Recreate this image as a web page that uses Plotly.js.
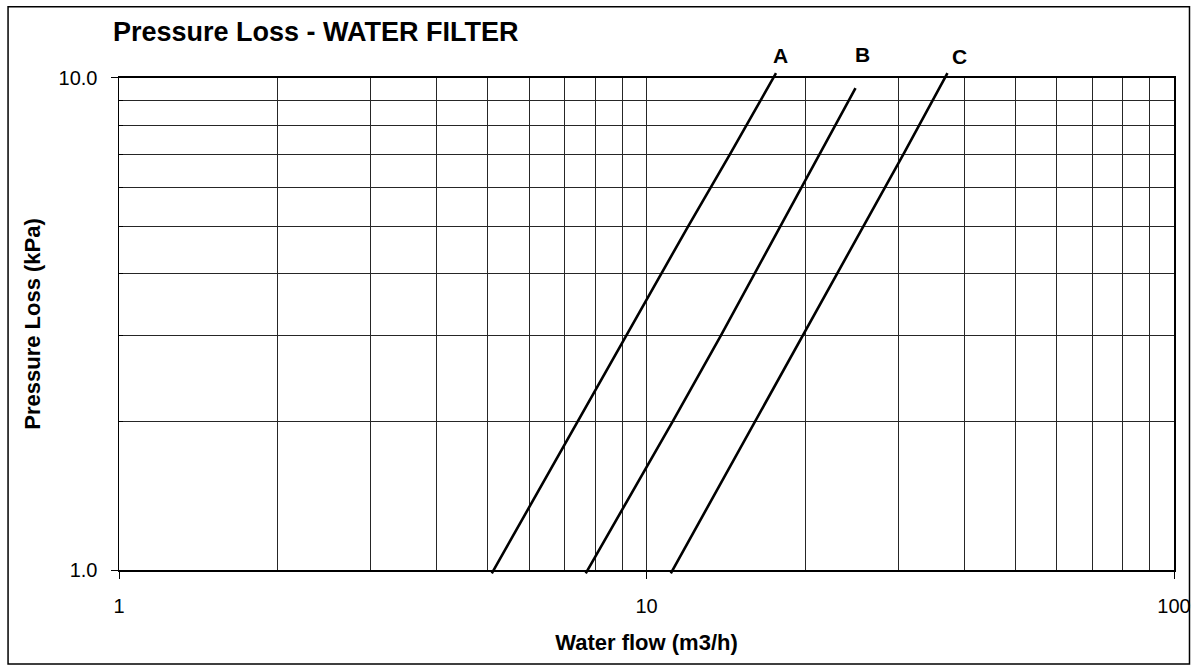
<!DOCTYPE html>
<html>
<head>
<meta charset="utf-8">
<script src="https://cdn.plot.ly/plotly-3.0.1.min.js"></script>
<style>
  html, body { margin: 0; padding: 0; background: #fff; }
  #chart { width: 1197px; height: 668px; }
</style>
</head>
<body>
<div id="chart"></div>
<script>
// ---- data ----
const seriesNames = ['A', 'B', 'C'];
const flowA = [5.09, 7.4, 9.15, 12.0, 14.4, 17.6];
const lossA = [0.985, 2, 3, 5, 7, 10.22];
const flowB = [7.67, 11.2, 13.85, 17.95, 21.3, 24.9];
const lossB = [0.985, 2, 3, 5, 7, 9.53];
const flowC = [11.12, 16.06, 19.45, 25.8, 30.7, 37.2];
const lossC = [0.985, 2, 2.89, 5, 7, 10.22];

const xTickVals = [1, 10, 100];
const xTickText = ['1', '10', '100'];
const xMinorVals = [2, 3, 4, 5, 6, 7, 8, 9, 20, 30, 40, 50, 60, 70, 80, 90];
const yTickVals = [1, 10];
const yTickText = ['1.0', '10.0'];
const yMinorVals = [2, 3, 4, 5, 6, 7, 8, 9];

// ---- layout geometry ----
const W = 1197, H = 668;
const plotLeft = 119, plotRight = 1174.5;
const axTop = 78, axBottom = 570;
const decY = axBottom - axTop;           // px per decade (y range 1..10)
const lo = -0.01, hi = 1.02;             // extended log range for the curve layer
const areaTop = axTop - (hi - 1) * decY;
const areaBottom = axBottom - lo * decY;
const areaH = areaBottom - areaTop;
const domLo = (0 - lo) / (hi - lo), domHi = (1 - lo) / (hi - lo);
const areaW = plotRight - plotLeft;
const px2paperX = p => (p - plotLeft) / areaW;
const px2paperY = p => (areaBottom - p) / areaH;

const FONT = 'Liberation Sans, Arial, Helvetica, sans-serif';
const GRID = '#262626';

const flows = [flowA, flowB, flowC];
const losses = [lossA, lossB, lossC];
const traces = seriesNames.map((n, i) => ({
  type: 'scatter', mode: 'lines', name: n,
  x: flows[i], y: losses[i],
  xaxis: 'x2', yaxis: 'y2',
  line: { color: '#000000', width: 2.6 },
  hoverinfo: 'skip', showlegend: false
}));

// label positions (log10 x of label centre, pixel y of label centre)
const labelPos = [[1.254, 55.8], [1.4095, 54.2], [1.5934, 56.7]];
const annotations = seriesNames.map((n, i) => ({
  text: n, xref: 'x', yref: 'paper',
  x: labelPos[i][0], y: px2paperY(labelPos[i][1]),
  xanchor: 'center', yanchor: 'middle', showarrow: false,
  font: { family: FONT, size: 21, color: '#000', weight: 700 }
}));

const layout = {
  width: W, height: H,
  paper_bgcolor: '#ffffff', plot_bgcolor: 'rgba(0,0,0,0)',
  margin: { l: plotLeft, r: W - plotRight, t: areaTop, b: H - areaBottom, pad: 0 },
  showlegend: false,
  title: {
    text: 'Pressure Loss - WATER FILTER',
    font: { family: FONT, size: 27, color: '#000', weight: 700 },
    x: 113 / W, xref: 'container', xanchor: 'left',
    y: 1 - 31.5 / H, yref: 'container', yanchor: 'middle'
  },
  xaxis: {
    type: 'log', range: [0, 2], domain: [0, 1], anchor: 'y',
    showline: true, mirror: true, linecolor: '#000', linewidth: 1.5,
    tickmode: 'array', tickvals: xTickVals, ticktext: xTickText,
    ticks: 'outside', ticklen: 7, tickwidth: 1, tickcolor: '#000',
    ticklabelstandoff: 10,
    tickfont: { family: FONT, size: 20, color: '#000' },
    showgrid: true, gridcolor: GRID, gridwidth: 1, zeroline: false,
    minor: { tickvals: xMinorVals, showgrid: true, gridcolor: GRID, gridwidth: 1, ticks: '' },
    title: { text: 'Water flow (m3/h)', standoff: 19,
             font: { family: FONT, size: 22, color: '#000', weight: 700 } },
    fixedrange: true
  },
  yaxis: {
    type: 'log', range: [0, 1], domain: [domLo, domHi], anchor: 'x',
    showline: true, mirror: true, linecolor: '#000', linewidth: 1.5,
    tickmode: 'array', tickvals: yTickVals, ticktext: yTickText,
    ticks: 'outside', ticklen: 7, tickwidth: 1, tickcolor: '#000',
    ticklabelstandoff: 9,
    tickfont: { family: FONT, size: 20, color: '#000' },
    showgrid: true, gridcolor: GRID, gridwidth: 1, zeroline: false,
    minor: { tickvals: yMinorVals, showgrid: true, gridcolor: GRID, gridwidth: 1,
             ticks: 'inside', ticklen: 4, tickcolor: '#000' },
    title: { text: 'Pressure Loss (kPa)', standoff: 12,
             font: { family: FONT, size: 22, color: '#000', weight: 700 } },
    fixedrange: true
  },
  xaxis2: { type: 'log', range: [0, 2], domain: [0, 1], anchor: 'y2', visible: false, fixedrange: true },
  yaxis2: { type: 'log', range: [lo, hi], domain: [0, 1], anchor: 'x2', visible: false, fixedrange: true },
  annotations: annotations,
  shapes: [{
    type: 'rect', xref: 'paper', yref: 'paper', layer: 'below',
    x0: px2paperX(8), x1: px2paperX(1190), y0: px2paperY(664), y1: px2paperY(7),
    line: { color: '#000', width: 1.5 }, fillcolor: 'rgba(0,0,0,0)'
  }]
};

Plotly.newPlot('chart', traces, layout, { displayModeBar: false, staticPlot: true });
</script>
</body>
</html>
